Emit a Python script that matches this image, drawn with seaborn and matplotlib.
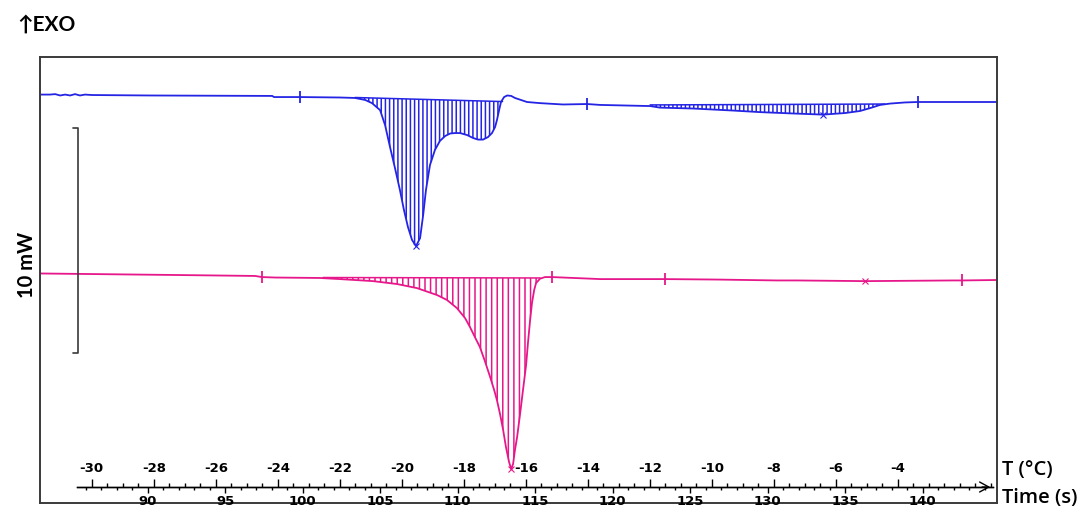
import numpy as np
import matplotlib
matplotlib.use("Agg")
import matplotlib.pyplot as plt
from matplotlib.ticker import MultipleLocator
import seaborn as sns

# ---- DSC cooling run: heat flow (mW) versus temperature (°C) ----
blue_T = [-31.67, -31.35, -31.18, -31.02, -30.86, -30.70, -30.54, -30.38, -30.22, -29.99,
          -28.12, -24.18, -24.12, -23.28, -21.99, -21.51, -21.18, -20.96, -20.70, -20.54,
          -20.38, -20.22, -20.06, -19.93, -19.80, -19.67, -19.54, -19.41, -19.31, -19.22,
          -19.09, -18.93, -18.77, -18.60, -18.44, -18.28, -18.12, -17.89, -17.70, -17.54,
          -17.38, -17.22, -17.09, -16.99, -16.93, -16.86, -16.80, -16.70, -16.60, -16.47,
          -16.35, -15.96, -15.54, -14.80, -14.02, -13.60, -11.99, -11.67, -10.60, -9.31,
          -8.44, -7.38, -6.41, -5.70, -5.22, -4.89, -4.57, -4.25, -3.77, -3.35,
          -2.31, -0.80]
blue_mw = [0.02, 0.02, 0.04, -0.02, 0.02, -0.02, 0.04, -0.02, 0.02, 0.00,
           -0.02, -0.04, -0.09, -0.09, -0.11, -0.13, -0.22, -0.36, -0.67, -1.33,
           -2.31, -3.24, -4.22, -5.11, -5.87, -6.44, -6.71, -6.36, -5.33, -4.22,
           -3.11, -2.44, -2.04, -1.82, -1.71, -1.69, -1.69, -1.78, -1.91, -1.98,
           -1.98, -1.87, -1.69, -1.42, -1.11, -0.67, -0.31, -0.09, -0.02, -0.04,
           -0.13, -0.31, -0.36, -0.42, -0.40, -0.44, -0.49, -0.56, -0.60, -0.69,
           -0.76, -0.82, -0.87, -0.80, -0.71, -0.58, -0.44, -0.38, -0.33, -0.31,
           -0.31, -0.31]

pink_T = [-31.67, -29.73, -27.15, -24.73, -24.51, -24.09, -22.64, -21.99, -20.93, -20.15,
          -19.51, -18.86, -18.54, -18.22, -17.96, -17.80, -17.64, -17.48, -17.32, -17.15,
          -17.02, -16.93, -16.83, -16.73, -16.64, -16.54, -16.47, -16.41, -16.35, -16.28,
          -16.18, -16.09, -15.99, -15.93, -15.86, -15.80, -15.73, -15.67, -15.54, -15.38,
          -15.15, -13.93, -13.60, -11.51, -9.83, -7.90, -7.25, -5.06, -2.22, -1.93,
          -0.80]
pink_mw = [-7.93, -7.96, -8.00, -8.04, -8.09, -8.11, -8.13, -8.18, -8.27, -8.40,
           -8.58, -8.89, -9.11, -9.47, -9.91, -10.31, -10.76, -11.20, -11.82, -12.53,
           -13.11, -13.56, -14.18, -14.89, -15.64, -16.31, -16.62, -16.40, -15.78, -15.20,
           -14.13, -13.11, -12.00, -11.02, -10.00, -9.24, -8.67, -8.36, -8.16, -8.09,
           -8.09, -8.16, -8.18, -8.18, -8.20, -8.24, -8.24, -8.27, -8.24, -8.24,
           -8.22]

# Integration windows: limits (°C) and baseline heat flow (mW) at each limit
blue_win1_T, blue_win1_base = [-21.51, -16.75], [-0.11, -0.29]
blue_win2_T, blue_win2_base = [-11.99, -4.42], [-0.44, -0.40]
pink_win_T, pink_win_base = [-22.54, -15.54], [-8.11, -8.13]

# Integration limit markers and peak markers (°C)
blue_limits = [-23.28, -14.02, -3.35]
pink_limits = [-24.51, -15.15, -11.51, -1.93]
blue_peaks = [-19.54, -6.41]
pink_peaks = [-16.47, -5.06]

# Axis scales
temp_ticks = list(range(-30, -3, 2))
time_ticks = list(range(90, 141, 5))
T_AT_90S = -28.2      # °C at t = 90 s
RATE = 0.5            # °C per s
SCALE_MW = 10.0
SCALE_TOP = -1.47

BLUE = "#2424e4"
PINK = "#e6178a"
FRAME = "#3a3a3a"

sns.set_theme(style="white")
plt.rcParams["hatch.linewidth"] = 1.1

W, H = 1088, 509
fig = plt.figure(figsize=(W / 100, H / 100), dpi=100)
ax = fig.add_axes([40 / W, 1 - 503 / H, 957 / W, (503 - 57) / H])
XL = (-31.67, -0.80)
ax.set_xlim(*XL)
ax.set_ylim(-18.13, 1.69)
ax.set_xticks([])
ax.set_yticks([])
ax.set_xlabel("")
ax.set_ylabel("")
for sp in ax.spines.values():
    sp.set_visible(True)
    sp.set_color(FRAME)
    sp.set_linewidth(1.4)


def px_to_T(px):
    return XL[0] + (px - 40) / 957 * (XL[1] - XL[0])


def draw_window(win_T, win_base, T, mw, color, hatch):
    xs = np.linspace(win_T[0], win_T[1], 400)
    curve = np.interp(xs, T, mw)
    base = np.interp(xs, win_T, win_base)
    ax.fill_between(xs, curve, base, facecolor="none", edgecolor=color,
                    hatch=hatch, linewidth=0)
    ax.plot(win_T, win_base, color=color, lw=1.1)


draw_window(blue_win1_T, blue_win1_base, blue_T, blue_mw, BLUE, "||||")
draw_window(blue_win2_T, blue_win2_base, blue_T, blue_mw, BLUE, "||||")
draw_window(pink_win_T, pink_win_base, pink_T, pink_mw, PINK, "|||")

sns.lineplot(x=blue_T, y=blue_mw, ax=ax, color=BLUE, lw=1.3, estimator=None, sort=False)
sns.lineplot(x=pink_T, y=pink_mw, ax=ax, color=PINK, lw=1.3, estimator=None, sort=False)

ax.plot(blue_limits, np.interp(blue_limits, blue_T, blue_mw), ls="none",
        marker="|", ms=8, mew=1.3, color=BLUE)
ax.plot(pink_limits, np.interp(pink_limits, pink_T, pink_mw), ls="none",
        marker="|", ms=8, mew=1.3, color=PINK)
ax.plot(blue_peaks, np.interp(blue_peaks, blue_T, blue_mw), ls="none",
        marker="x", ms=4, mew=0.8, color=BLUE)
ax.plot(pink_peaks, np.interp(pink_peaks, pink_T, pink_mw), ls="none",
        marker="x", ms=4, mew=0.8, color=PINK)

# 10 mW scale bar
x0 = px_to_T(78)
d = 5 / 957 * (XL[1] - XL[0])
ax.plot([x0 - d, x0, x0, x0 - d],
        [SCALE_TOP, SCALE_TOP, SCALE_TOP - SCALE_MW, SCALE_TOP - SCALE_MW],
        color=FRAME, lw=1.2)

# Temperature / time scale drawn inside the frame
ax_s = fig.add_axes([77 / W, 1 - 487 / H, (993 - 77) / W, 1e-6])
ax_s.set_xlim(px_to_T(77), px_to_T(993))
ax_s.patch.set_visible(False)
for k in ("left", "right", "top"):
    ax_s.spines[k].set_visible(False)
ax_s.spines["bottom"].set_color("black")
ax_s.spines["bottom"].set_linewidth(1.0)
ax_s.set_yticks([])
ax_s.xaxis.set_ticks_position("top")
ax_s.set_xticks(temp_ticks, [str(v) for v in temp_ticks],
                fontweight="bold", fontsize=9.5, color="black")
ax_s.xaxis.set_minor_locator(MultipleLocator(0.5))
ax_s.tick_params(axis="x", which="major", top=True, bottom=False, labeltop=True,
                 labelbottom=False, direction="out", length=5.5, width=1.0,
                 pad=3.0, color="black")
ax_s.tick_params(axis="x", which="minor", top=True, bottom=False, direction="out",
                 length=2.8, width=1.0, color="black")


def T_to_t(T):
    return 90 + (np.asarray(T) - T_AT_90S) / RATE


def t_to_T(t):
    return T_AT_90S + (np.asarray(t) - 90) * RATE


sec = ax_s.secondary_xaxis("bottom", functions=(T_to_t, t_to_T))
sec.set_xticks(time_ticks, [str(v) for v in time_ticks],
               fontweight="bold", fontsize=9.5, color="black")
sec.xaxis.set_minor_locator(MultipleLocator(1))
sec.tick_params(axis="x", which="major", direction="out", length=4.5, width=1.0,
                pad=1.0, color="black")
sec.tick_params(axis="x", which="minor", direction="out", length=2.5, width=1.0,
                color="black")
sec.spines["bottom"].set_color("black")
sec.spines["bottom"].set_linewidth(1.0)

ax_s.annotate("", xy=(1.0, 0.0), xytext=(0.985, 0.0), xycoords="axes fraction",
              arrowprops=dict(arrowstyle="->,head_length=0.55,head_width=0.3",
                              lw=1.0, color="black"), annotation_clip=False)

# Labels
fig.text(17 / W, 1 - 25 / H, "↑EXO", family=["Lato", "DejaVu Sans"],
         fontweight="bold", fontsize=15, ha="left", va="center", color="black")
fig.text(27 / W, 1 - 265 / H, "10 mW", family=["Lato", "DejaVu Sans"],
         fontweight="bold", fontsize=14.5, rotation=90, ha="center", va="center",
         color="black")
fig.text(1002 / W, 1 - 470 / H, "T (°C)", family=["Open Sans", "DejaVu Sans"],
         fontsize=14.5, fontweight="semibold", ha="left", va="center", color="black")
fig.text(1002 / W, 1 - 498 / H, "Time (s)", family=["Open Sans", "DejaVu Sans"],
         fontsize=14.5, fontweight="semibold", ha="left", va="center", color="black")

fig.savefig("out.png", dpi=100, facecolor="white")
